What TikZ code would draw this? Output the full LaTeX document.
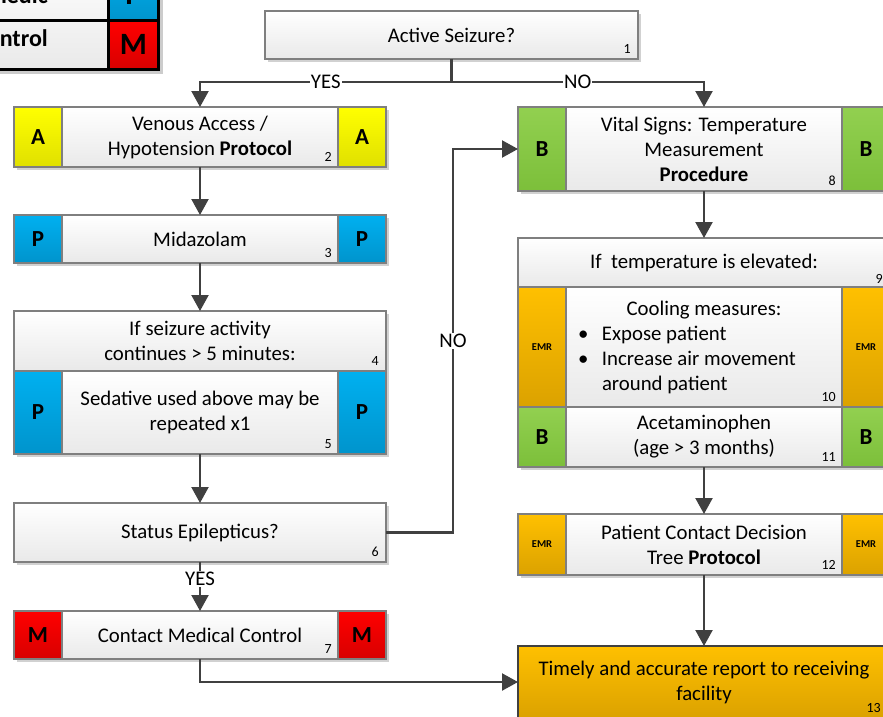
\documentclass[tikz,border=0pt]{standalone}
\usepackage{fontspec}
\setmainfont{Carlito}
\usetikzlibrary{arrows.meta,shadows}

\definecolor{lineGray}{HTML}{7F7F7F}
\definecolor{arrowGray}{HTML}{404040}
\definecolor{boxLow}{HTML}{E9E9E9}
\definecolor{yellowTop}{HTML}{FFFF00}
\definecolor{yellowLow}{HTML}{E0E000}
\definecolor{blueTop}{HTML}{00B0F0}
\definecolor{blueLow}{HTML}{0094CC}
\definecolor{redTop}{HTML}{FF0000}
\definecolor{redLow}{HTML}{D80000}
\definecolor{greenTop}{HTML}{92D050}
\definecolor{greenLow}{HTML}{7CBF3A}
\definecolor{orangeTop}{HTML}{FFC000}
\definecolor{orangeLow}{HTML}{DBA200}

\newcommand{\boxfont}{\fontsize{20.8}{25}\selectfont}
\newcommand{\numfont}{\fontsize{14}{16}\selectfont}
\newcommand{\tagfont}{\fontsize{23}{26}\selectfont\bfseries}
\newcommand{\emrfont}{\fontsize{10.5}{12}\selectfont\bfseries}
\newcommand{\legfont}{\fontsize{24}{28}\selectfont\bfseries}
\newcommand{\legtagfont}{\fontsize{31}{34}\selectfont\bfseries}

\tikzset{
  stepbox/.style={draw=lineGray, line width=1.2pt, top color=white, bottom color=boxLow,
    minimum width=372pt, inner sep=0pt, outer sep=0pt, align=center, font=\boxfont,
    drop shadow={shadow xshift=3pt, shadow yshift=-3pt, fill=black, opacity=0.18}},
  report/.style={draw=arrowGray, line width=2.5pt, top color=orangeTop, bottom color=orangeLow},
  tag/.style={draw=lineGray, line width=1.2pt, minimum width=48pt, inner sep=0pt, outer sep=0pt, font=\tagfont},
  tagA/.style={tag, top color=yellowTop, bottom color=yellowLow},
  tagP/.style={tag, top color=blueTop, bottom color=blueLow},
  tagM/.style={tag, top color=redTop, bottom color=redLow},
  tagB/.style={tag, top color=greenTop, bottom color=greenLow},
  tagE/.style={tag, top color=orangeTop, bottom color=orangeLow, font=\emrfont},
  num/.style={font=\numfont, inner sep=0pt, anchor=south east},
  flow/.style={draw=arrowGray, line width=2.2pt, -{Triangle[length=16pt,width=17pt]}},
  lab/.style={fill=white, inner sep=1pt, font=\boxfont},
}

\begin{document}
\begin{tikzpicture}[x=1pt, y=-1pt]

    \useasboundingbox (0,0) rectangle (883,717);
    \fill[white] (0,0) rectangle (883,717);
    \clip (0,0) rectangle (883,717);

    % legend in the corner
    \fill[black, opacity=0.2] (-196,-36) rectangle (163,74);
    \shade[top color=white, bottom color=boxLow] (-200,-40) rectangle (108.5,69.5);
    \shade[top color=blueTop, bottom color=blueLow] (108.5,-40) rectangle (158.5,21);
    \shade[top color=redTop, bottom color=redLow] (108.5,21) rectangle (158.5,69.5);
    \draw[line width=3pt] (-200,-40) rectangle (158.5,69.5);
    \draw[line width=3pt] (-200,21) -- (158.5,21);
    \draw[line width=3pt] (108.5,-40) -- (108.5,69.5);
    \node[font=\legfont, inner sep=0pt, anchor=base east] (legP) at (48,4) {Paramedic};
    \node[font=\legfont, inner sep=0pt, anchor=base east] (legM) at (48,47) {Medical Control};
    \node[font=\legtagfont, inner sep=0pt, anchor=base] (legPtag) at (133.5,5) {P};
    \node[font=\legtagfont, inner sep=0pt, anchor=base] (legMtag) at (133.5,55) {M};

    % first question
    \node[stepbox, minimum width=373pt, minimum height=48pt] (act) at (451.5,35) {Active Seizure?};
    \node[num] at ([xshift=-7pt,yshift=5pt]act.south east) {1};
    \coordinate (split) at (451.5,82);

    % left column
    \node[stepbox, minimum height=60pt] (ven) at (200,137) {Venous Access /\\Hypotension \textbf{Protocol}};
    \node[tagA, minimum height=60pt, anchor=west] (venL) at (ven.west) {A};
    \node[tagA, minimum height=60pt, anchor=east] (venR) at (ven.east) {A};
    \node[num] at ([xshift=-6pt,yshift=5pt]venR.south west) {2};

    \node[stepbox, minimum height=48pt] (mid) at (200,239) {Midazolam};
    \node[tagP, minimum height=48pt, anchor=west] (midL) at (mid.west) {P};
    \node[tagP, minimum height=48pt, anchor=east] (midR) at (mid.east) {P};
    \node[num] at ([xshift=-6pt,yshift=5pt]midR.south west) {3};

    \node[stepbox, minimum height=60pt] (cont) at (200,341) {If seizure activity\\continues > 5 minutes:};
    \node[num] at ([xshift=-7pt,yshift=5pt]cont.south east) {4};

    \node[stepbox, minimum height=83pt] (sed) at (200,412.5) {Sedative used above may be\\repeated x1};
    \node[tagP, minimum height=83pt, anchor=west] (sedL) at (sed.west) {P};
    \node[tagP, minimum height=83pt, anchor=east] (sedR) at (sed.east) {P};
    \node[num] at ([xshift=-6pt,yshift=5pt]sedR.south west) {5};

    \node[stepbox, minimum height=59pt] (stat) at (200,532.5) {Status Epilepticus?};
    \node[num] at ([xshift=-7pt,yshift=5pt]stat.south east) {6};

    \node[stepbox, minimum height=48pt] (med) at (200,635) {Contact Medical Control};
    \node[tagM, minimum height=48pt, anchor=west] (medL) at (med.west) {M};
    \node[tagM, minimum height=48pt, anchor=east] (medR) at (med.east) {M};
    \node[num] at ([xshift=-6pt,yshift=5pt]medR.south west) {7};

    % right column
    \node[stepbox, minimum height=84pt] (vit) at (704,149) {Vital Signs: Temperature\\Measurement\\\textbf{Procedure}};
    \node[tagB, minimum height=84pt, anchor=west] (vitL) at (vit.west) {B};
    \node[tagB, minimum height=84pt, anchor=east] (vitR) at (vit.east) {B};
    \node[num] at ([xshift=-6pt,yshift=5pt]vitR.south west) {8};

    \node[stepbox, minimum height=49pt] (temp) at (704,262.5) {If~ temperature is elevated:};
    \node[num] at ([xshift=-7pt,yshift=3pt]temp.south east) {9};

    \node[stepbox, minimum height=120pt] (cool) at (704,347) {\parbox{252pt}{\centering Cooling measures:\par
        \raggedright\makebox[24pt][l]{\textbullet}Expose patient\\
        \makebox[24pt][l]{\textbullet}Increase air movement\\
        \hspace*{24pt}around patient}};
    \node[tagE, minimum height=120pt, anchor=west] (coolL) at (cool.west) {EMR};
    \node[tagE, minimum height=120pt, anchor=east] (coolR) at (cool.east) {EMR};
    \node[num] at ([xshift=-6pt,yshift=5pt]coolR.south west) {10};

    \node[stepbox, minimum height=60pt] (acet) at (704,437) {Acetaminophen\\(age > 3 months)};
    \node[tagB, minimum height=60pt, anchor=west] (acetL) at (acet.west) {B};
    \node[tagB, minimum height=60pt, anchor=east] (acetR) at (acet.east) {B};
    \node[num] at ([xshift=-6pt,yshift=5pt]acetR.south west) {11};

    \node[stepbox, minimum height=61pt] (pcd) at (704,544.5) {Patient Contact Decision\\Tree \textbf{Protocol}};
    \node[tagE, minimum height=61pt, anchor=west] (pcdL) at (pcd.west) {EMR};
    \node[tagE, minimum height=61pt, anchor=east] (pcdR) at (pcd.east) {EMR};
    \node[num] at ([xshift=-6pt,yshift=5pt]pcdR.south west) {12};

    \node[stepbox, report, minimum height=72pt] (rep) at (704,682) {Timely and accurate report to receiving\\facility};
    \node[num] at ([xshift=-9pt,yshift=5pt]rep.south east) {13};

    % connectors
    \draw[arrowGray, line width=2.2pt] (act) -- (split);
    \draw[flow] (split) -| node[lab, pos=0.25] {YES} (ven);
    \draw[flow] (split) -| node[lab, pos=0.25] {NO} (vit);
    \draw[flow] (ven) -- (mid);
    \draw[flow] (mid) -- (cont);
    \draw[flow] (sed) -- (stat);
    \draw[flow] (stat) -- node[lab, pos=0.35] {YES} (med);
    \coordinate (noTurn) at (453,532.5);
    \draw[flow] (stat) -- (noTurn) |- node[lab, pos=0.25] {NO} (vit);
    \draw[flow] (med) |- (rep);
    \draw[flow] (vit) -- (temp);
    \draw[flow] (acet) -- (pcd);
    \draw[flow] (pcd) -- (rep);
    \end{tikzpicture}
\end{document}
